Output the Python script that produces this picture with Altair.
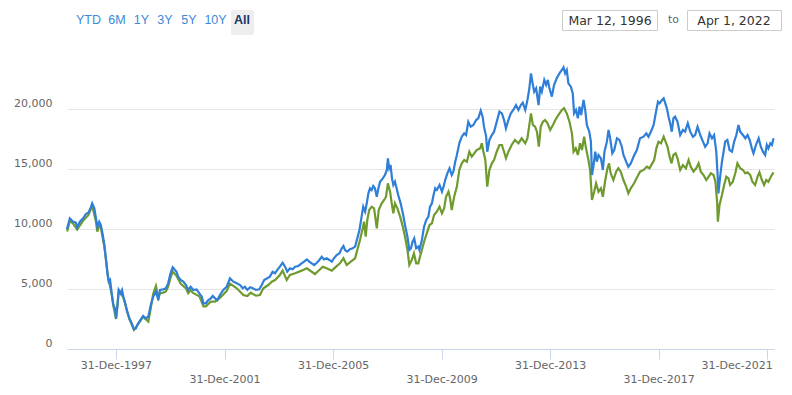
import altair as alt
import pandas as pd

# ---------------- data ----------------
blue_years = [1996.19, 1996.30, 1996.42, 1996.52, 1996.57, 1996.67, 1996.79, 1996.89, 1996.98, 1997.06, 1997.12, 1997.20, 1997.26, 1997.31, 1997.38, 1997.44, 1997.51, 1997.57, 1997.63, 1997.68, 1997.73, 1997.78, 1997.84, 1997.90, 1997.96, 1998.00, 1998.05, 1998.10, 1998.17, 1998.22, 1998.27, 1998.34, 1998.41, 1998.49, 1998.58, 1998.66, 1998.73, 1998.78, 1998.86, 1998.94, 1999.00, 1999.08, 1999.19, 1999.28, 1999.37, 1999.47, 1999.56, 1999.62, 1999.74, 1999.84, 1999.92, 2000.01, 2000.09, 2000.17, 2000.23, 2000.29, 2000.38, 2000.48, 2000.58, 2000.66, 2000.75, 2000.85, 2000.97, 2001.07, 2001.16, 2001.22, 2001.31, 2001.40, 2001.49, 2001.56, 2001.65, 2001.73, 2001.83, 2001.95, 2002.08, 2002.20, 2002.32, 2002.45, 2002.57, 2002.67, 2002.75, 2002.84, 2002.94, 2003.04, 2003.16, 2003.28, 2003.37, 2003.46, 2003.57, 2003.67, 2003.77, 2003.86, 2003.94, 2004.04, 2004.14, 2004.23, 2004.31, 2004.41, 2004.51, 2004.60, 2004.72, 2004.84, 2004.93, 2005.03, 2005.12, 2005.21, 2005.30, 2005.40, 2005.49, 2005.58, 2005.66, 2005.76, 2005.86, 2005.95, 2006.03, 2006.13, 2006.23, 2006.32, 2006.38, 2006.44, 2006.52, 2006.62, 2006.72, 2006.81, 2006.89, 2006.97, 2007.05, 2007.11, 2007.18, 2007.24, 2007.30, 2007.36, 2007.42, 2007.48, 2007.54, 2007.61, 2007.67, 2007.73, 2007.83, 2007.91, 2007.98, 2008.02, 2008.07, 2008.12, 2008.17, 2008.22, 2008.28, 2008.34, 2008.40, 2008.49, 2008.57, 2008.65, 2008.74, 2008.81, 2008.87, 2008.93, 2008.99, 2009.06, 2009.14, 2009.18, 2009.27, 2009.35, 2009.43, 2009.51, 2009.57, 2009.64, 2009.70, 2009.76, 2009.82, 2009.92, 2010.01, 2010.07, 2010.13, 2010.21, 2010.29, 2010.37, 2010.43, 2010.50, 2010.56, 2010.65, 2010.74, 2010.83, 2010.90, 2010.98, 2011.07, 2011.17, 2011.27, 2011.35, 2011.44, 2011.51, 2011.56, 2011.64, 2011.68, 2011.76, 2011.85, 2011.93, 2012.03, 2012.13, 2012.22, 2012.30, 2012.37, 2012.46, 2012.55, 2012.64, 2012.74, 2012.83, 2012.92, 2012.99, 2013.08, 2013.16, 2013.23, 2013.29, 2013.35, 2013.41, 2013.48, 2013.57, 2013.63, 2013.69, 2013.78, 2013.85, 2013.91, 2013.97, 2014.06, 2014.14, 2014.24, 2014.34, 2014.43, 2014.49, 2014.55, 2014.61, 2014.67, 2014.76, 2014.83, 2014.88, 2014.95, 2015.02, 2015.08, 2015.14, 2015.23, 2015.29, 2015.35, 2015.44, 2015.50, 2015.54, 2015.60, 2015.66, 2015.72, 2015.78, 2015.87, 2015.94, 2016.00, 2016.09, 2016.15, 2016.21, 2016.29, 2016.36, 2016.46, 2016.55, 2016.64, 2016.70, 2016.80, 2016.88, 2016.97, 2017.07, 2017.19, 2017.31, 2017.44, 2017.54, 2017.62, 2017.71, 2017.81, 2017.91, 2017.97, 2018.03, 2018.12, 2018.18, 2018.24, 2018.30, 2018.36, 2018.42, 2018.48, 2018.54, 2018.60, 2018.69, 2018.79, 2018.89, 2018.97, 2019.07, 2019.16, 2019.26, 2019.34, 2019.43, 2019.53, 2019.63, 2019.71, 2019.80, 2019.87, 2019.96, 2020.04, 2020.12, 2020.17, 2020.20, 2020.27, 2020.33, 2020.39, 2020.45, 2020.53, 2020.61, 2020.70, 2020.78, 2020.86, 2020.94, 2021.00, 2021.10, 2021.19, 2021.27, 2021.35, 2021.43, 2021.49, 2021.58, 2021.68, 2021.76, 2021.84, 2021.92, 2021.98, 2022.04, 2022.11, 2022.17, 2022.23]

blue_vals = [9970, 10890, 10610, 10530, 10140, 10610, 10890, 11250, 11360, 11720, 12140, 11720, 10890, 10190, 10610, 10330, 9500, 8670, 7420, 6310, 5610, 5750, 4640, 3670, 3390, 2560, 3530, 4920, 4640, 4920, 4360, 3810, 3110, 2560, 2140, 1640, 1720, 2000, 2280, 2560, 2750, 2560, 2690, 3670, 4360, 4780, 4080, 4920, 4970, 5060, 5470, 6310, 6810, 6580, 6440, 6030, 5750, 5610, 5330, 4920, 5190, 4920, 4970, 4640, 4360, 3810, 3810, 4080, 4220, 4420, 4220, 4080, 4500, 4920, 5190, 5890, 5610, 5470, 5330, 5060, 5190, 4920, 5140, 5060, 4920, 4970, 5330, 5750, 5890, 6030, 6440, 6310, 6580, 6860, 7190, 6860, 6440, 6720, 6640, 6860, 6920, 7140, 7280, 7470, 7280, 7140, 7000, 7190, 7420, 7690, 7470, 7560, 7420, 7280, 7560, 7830, 7970, 8390, 8580, 8250, 8110, 8310, 8390, 8530, 9220, 9920, 11030, 11860, 11440, 12140, 12970, 13390, 13250, 13580, 13390, 12690, 13390, 13940, 14220, 14500, 14920, 15890, 15060, 15330, 14220, 13670, 13940, 13390, 12830, 12140, 11310, 10330, 9360, 8250, 8390, 8940, 9220, 8390, 8530, 8250, 9080, 10190, 10750, 11030, 11860, 12140, 12830, 13390, 13250, 13670, 13110, 13530, 14080, 14640, 15060, 14500, 14780, 15610, 16170, 17140, 17690, 17970, 17830, 18940, 18530, 18670, 19080, 19220, 19860, 19360, 18530, 17690, 16440, 17420, 17830, 18110, 18940, 19780, 19640, 19080, 18390, 19080, 19640, 19920, 20330, 19920, 20330, 20530, 19920, 20750, 21720, 22970, 22140, 21440, 21720, 20330, 21860, 21440, 22420, 22000, 22420, 21720, 21030, 22000, 22560, 22970, 23250, 23470, 22970, 23250, 22140, 21860, 21310, 19640, 19920, 19220, 20190, 19500, 20750, 19920, 18670, 18110, 17280, 14500, 15330, 16440, 15610, 16170, 15890, 14920, 16440, 17280, 18250, 17560, 16310, 16580, 17560, 17420, 16860, 16170, 15610, 15190, 15470, 16030, 16580, 17560, 17690, 17970, 17690, 18110, 18670, 19920, 20610, 20470, 20750, 20890, 20470, 20060, 19360, 18810, 18110, 19220, 19360, 18940, 17830, 18250, 18110, 18810, 18110, 17690, 17830, 18530, 17830, 17280, 16860, 17140, 17970, 17560, 17830, 16440, 14500, 12970, 14500, 15610, 16440, 17280, 17420, 16580, 16440, 17280, 17830, 18670, 18110, 17830, 17560, 17830, 17420, 16720, 16310, 17000, 17560, 16860, 16440, 16170, 17000, 16720, 17140, 17000, 17560]

green_years = [1996.20, 1996.30, 1996.42, 1996.57, 1996.79, 1996.98, 1997.12, 1997.26, 1997.31, 1997.38, 1997.44, 1997.57, 1997.70, 1997.84, 1997.90, 1998.00, 1998.10, 1998.27, 1998.49, 1998.66, 1998.78, 1999.00, 1999.19, 1999.28, 1999.37, 1999.47, 1999.56, 1999.62, 1999.74, 1999.84, 1999.92, 2000.01, 2000.09, 2000.23, 2000.38, 2000.58, 2000.66, 2000.75, 2000.85, 2001.07, 2001.22, 2001.31, 2001.49, 2001.65, 2001.83, 2002.08, 2002.20, 2002.45, 2002.69, 2002.84, 2002.96, 2003.16, 2003.30, 2003.43, 2003.61, 2003.74, 2003.86, 2004.04, 2004.14, 2004.29, 2004.41, 2004.60, 2004.84, 2005.03, 2005.21, 2005.33, 2005.49, 2005.62, 2005.76, 2005.95, 2006.11, 2006.25, 2006.38, 2006.50, 2006.65, 2006.81, 2006.89, 2006.99, 2007.09, 2007.14, 2007.20, 2007.26, 2007.33, 2007.42, 2007.51, 2007.61, 2007.68, 2007.79, 2007.88, 2007.95, 2008.02, 2008.10, 2008.17, 2008.22, 2008.28, 2008.37, 2008.47, 2008.57, 2008.65, 2008.74, 2008.81, 2008.90, 2008.98, 2009.06, 2009.14, 2009.20, 2009.27, 2009.35, 2009.45, 2009.55, 2009.64, 2009.72, 2009.82, 2009.92, 2010.01, 2010.09, 2010.16, 2010.25, 2010.31, 2010.37, 2010.46, 2010.56, 2010.65, 2010.74, 2010.83, 2010.93, 2011.02, 2011.11, 2011.20, 2011.29, 2011.42, 2011.48, 2011.54, 2011.61, 2011.68, 2011.76, 2011.85, 2011.93, 2012.03, 2012.13, 2012.22, 2012.30, 2012.37, 2012.46, 2012.58, 2012.70, 2012.83, 2012.95, 2013.08, 2013.16, 2013.23, 2013.29, 2013.36, 2013.44, 2013.51, 2013.58, 2013.65, 2013.73, 2013.81, 2013.90, 2014.00, 2014.10, 2014.19, 2014.30, 2014.43, 2014.51, 2014.61, 2014.71, 2014.80, 2014.86, 2014.94, 2015.02, 2015.10, 2015.17, 2015.25, 2015.32, 2015.41, 2015.47, 2015.54, 2015.62, 2015.69, 2015.78, 2015.87, 2015.94, 2016.02, 2016.11, 2016.17, 2016.23, 2016.33, 2016.43, 2016.51, 2016.60, 2016.70, 2016.80, 2016.88, 2016.97, 2017.09, 2017.21, 2017.31, 2017.44, 2017.56, 2017.66, 2017.76, 2017.83, 2017.91, 2017.99, 2018.08, 2018.18, 2018.25, 2018.32, 2018.40, 2018.47, 2018.54, 2018.62, 2018.69, 2018.79, 2018.89, 2019.00, 2019.10, 2019.18, 2019.28, 2019.38, 2019.47, 2019.55, 2019.65, 2019.75, 2019.84, 2019.92, 2020.02, 2020.09, 2020.15, 2020.18, 2020.24, 2020.33, 2020.41, 2020.49, 2020.57, 2020.63, 2020.73, 2020.82, 2020.90, 2021.00, 2021.10, 2021.19, 2021.27, 2021.37, 2021.45, 2021.55, 2021.64, 2021.71, 2021.80, 2021.88, 2021.96, 2022.04, 2022.13, 2022.23]

green_vals = [9800, 10700, 10450, 9950, 10700, 11150, 11950, 10600, 9780, 10300, 10100, 8500, 6100, 4550, 3600, 2500, 4850, 4300, 2500, 1600, 1950, 2700, 2280, 3400, 4600, 5250, 4250, 4650, 4700, 4800, 5200, 5950, 6450, 6100, 5450, 5050, 4650, 4900, 4650, 4400, 3550, 3550, 3950, 3950, 4250, 4850, 5450, 5060, 4500, 4420, 4690, 4440, 4500, 5060, 5330, 5610, 5750, 6170, 6530, 5750, 6170, 6310, 6530, 6720, 6440, 6250, 6580, 6860, 6720, 6530, 6860, 7140, 7560, 7000, 7280, 7560, 8250, 9080, 10060, 10610, 9360, 10750, 11580, 11860, 11720, 10060, 11580, 12140, 12420, 12690, 13810, 13110, 12000, 11310, 12140, 11720, 11030, 10190, 9360, 8250, 7000, 7420, 7970, 7140, 7140, 7690, 8250, 8940, 9640, 10330, 10470, 11170, 11440, 11860, 11310, 11720, 12690, 13110, 12560, 11580, 12690, 13530, 14920, 15470, 15750, 15610, 16440, 16030, 16310, 16580, 16720, 17140, 16440, 15750, 13530, 14920, 15470, 15750, 16440, 17000, 17000, 16440, 15890, 16440, 17000, 17420, 17140, 17560, 17140, 17560, 18670, 19640, 18670, 18530, 18110, 16860, 18530, 18940, 19080, 18810, 18250, 18670, 19080, 19500, 19920, 20060, 19640, 18940, 17970, 16440, 16720, 16170, 17140, 16580, 17690, 16720, 15750, 14900, 12420, 13110, 13810, 13110, 13390, 12690, 13940, 15060, 15470, 14640, 14080, 14780, 15060, 14780, 14080, 13530, 12970, 13390, 13810, 14360, 14780, 14920, 15190, 15060, 15470, 15750, 16720, 17280, 17140, 17690, 17280, 16860, 16030, 15470, 16170, 16310, 15890, 14920, 15330, 15060, 15750, 15190, 14780, 15060, 15470, 14780, 14500, 14080, 14360, 14640, 14500, 13940, 12280, 10610, 12000, 12830, 13670, 14360, 14220, 13670, 13940, 14640, 15470, 15060, 14920, 14640, 14720, 14500, 13940, 13670, 14360, 14720, 14080, 13670, 14080, 13940, 14360, 14720]

y_ticks = [0, 5000, 10000, 15000, 20000]
x_tick_years = [1997, 2001, 2005, 2009, 2013, 2017, 2021]
range_buttons = ["YTD", "6M", "1Y", "3Y", "5Y", "10Y", "All"]
date_from = "Mar 12, 1996"
date_to = "Apr 1, 2022"

assert len(blue_years) == len(blue_vals), (len(blue_years), len(blue_vals))
assert len(green_years) == len(green_vals), (len(green_years), len(green_vals))


def to_dates(years):
    out = []
    for y in years:
        yi = int(y)
        out.append(pd.Timestamp(yi, 1, 1) + pd.Timedelta(days=(y - yi) * 365.25))
    return out


blue_df = pd.DataFrame({"date": to_dates(blue_years), "value": blue_vals})
green_df = pd.DataFrame({"date": to_dates(green_years), "value": green_vals})

LABEL_FONT = "DejaVu Sans"
BLUE = "#2f7ed8"
GREEN = "#6f9a2e"

x_scale = alt.Scale(domain=[alt.DateTime(year=1996, month=3, date=12),
                            alt.DateTime(year=2022, month=4, date=1)])
y_scale = alt.Scale(domain=[0, 24000], nice=False)

x_axis = alt.Axis(
    values=[alt.DateTime(year=y, month=12, date=31) for y in x_tick_years],
    format="%d-%b-%Y", title=None, grid=False, labelAngle=0,
    domainColor="#ccd6eb", tickColor="#ccd6eb", tickSize=10,
    labelFont=LABEL_FONT, labelFontSize=11, labelColor="#666666",
    labelOverlap=False, labelFlush=False,
    labelPadding={"condition": {"test": "year(datum.value) % 8 == 5", "value": 0}, "value": 14},
    labelAlign={"condition": {"test": "year(datum.value) == 2021", "value": "right"}, "value": "center"},
    labelOffset={"condition": {"test": "year(datum.value) == 2021", "value": 5}, "value": 0},
)
y_axis = alt.Axis(
    values=y_ticks, format=",.0f", title=None, domain=False, ticks=False,
    grid=True, gridColor="#e6e6e6", gridWidth=1,
    labelFont=LABEL_FONT, labelFontSize=11, labelColor="#666666",
    labelPadding=15, labelOffset=-6,
)

green_line = alt.Chart(green_df).mark_line(color=GREEN, strokeWidth=2.2).encode(
    x=alt.X("date:T", scale=x_scale, axis=x_axis),
    y=alt.Y("value:Q", scale=y_scale, axis=y_axis),
)
blue_line = alt.Chart(blue_df).mark_line(color=BLUE, strokeWidth=2.2).encode(
    x=alt.X("date:T", scale=x_scale, axis=x_axis),
    y=alt.Y("value:Q", scale=y_scale, axis=y_axis),
)

ui = pd.DataFrame({"k": [0]})


def txt(label, x, y, color, size, font, weight="normal"):
    return alt.Chart(ui).mark_text(text=label, align="center", baseline="middle",
                                   fontSize=size, font=font, color=color,
                                   fontWeight=weight).encode(
        x=alt.value(x), y=alt.value(y))


def box(x1, x2, y1, y2, fill, stroke=None, radius=0):
    kw = dict(fill=fill, cornerRadius=radius)
    if stroke:
        kw.update(stroke=stroke, strokeWidth=1)
    return alt.Chart(ui).mark_rect(**kw).encode(
        x=alt.value(x1), x2=alt.value(x2), y=alt.value(y1), y2=alt.value(y2))


btn_x = [21.5, 50, 74.5, 98, 122, 148.5, 175]
ui_layers = [box(164, 187, -51, -26, "#eeeeee", radius=2)]
for lab, bx in zip(range_buttons, btn_x):
    if lab == "All":
        ui_layers.append(txt(lab, bx, -41, "#1e3566", 12.5, "Liberation Sans", "bold"))
    else:
        ui_layers.append(txt(lab, bx, -41, "#3a8ad8", 12.5, "Liberation Sans"))

ui_layers += [
    box(495.5, 590.5, -50.5, -30.5, "white", "#cccccc"),
    box(620.5, 714.5, -50.5, -30.5, "white", "#cccccc"),
    txt(date_from, 543, -40, "#333333", 12.5, "DejaVu Sans"),
    txt("to", 606.5, -41, "#666666", 11, "DejaVu Sans"),
    txt(date_to, 667, -40, "#333333", 12.5, "DejaVu Sans"),
]

chart = alt.layer(green_line, blue_line, *ui_layers).properties(
    width=707, height=288,
    padding={"left": 59, "top": 53, "right": 10, "bottom": 38},
    autosize=alt.AutoSizeParams(type="none"),
).configure_view(stroke=None)

chart.save("out.html", embed_options={"renderer": "svg", "actions": False})
